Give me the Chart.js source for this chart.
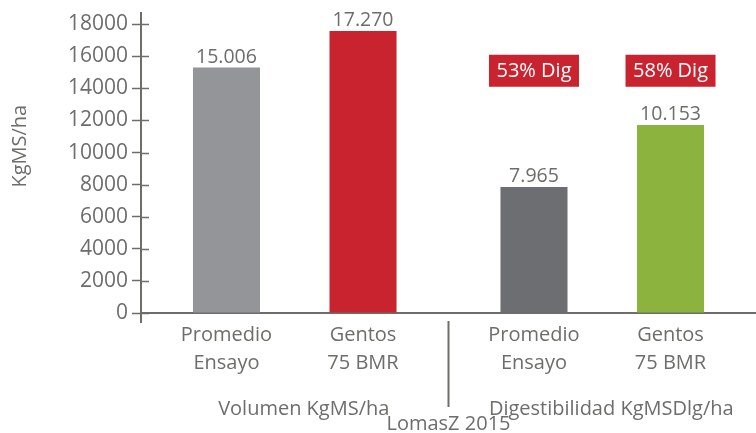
<!DOCTYPE html>
<html>
<head>
<meta charset="utf-8">
<script src="https://cdn.jsdelivr.net/npm/chart.js@4.4.1/dist/chart.umd.min.js"></script>
<style>
  html, body { margin: 0; padding: 0; background: #fff; }
  canvas { display: block; }
</style>
</head>
<body>
<canvas id="chart" width="756" height="433"></canvas>
<script>
// groups on the x axis
const groups = ["Volumen KgMS/ha", "Digestibilidad KgMSDlg/ha"];
// the two bars inside each group
const seriesNames = [["Promedio", "Ensayo"], ["Gentos", "75 BMR"]];
// bar heights as drawn (KgMS/ha)
const promedio = [15300, 7850];
const gentos = [17580, 11720];
// printed value labels
const promedioLabels = ["15.006", "7.965"];
const gentosLabels = ["17.270", "10.153"];
const promedioColors = ["#939598", "#6d6e71"];
const gentosColors = ["#c8232f", "#8db33f"];
// digestibility badges (only second group)
const badges = [["", "53% Dig"], ["", "58% Dig"]];
const badgeAt = 15100;
const yTicks = [0, 2000, 4000, 6000, 8000, 10000, 12000, 14000, 16000, 18000];
const yTitle = "KgMS/ha";
const footer = "LomasZ 2015";

const grey = "#6d6e6a";
const font = "'Open Sans', sans-serif";

const decor = {
  id: "decor",
  afterDraw(chart) {
    const ctx = chart.ctx;
    const { left, bottom } = chart.chartArea;
    const x = chart.scales.x, y = chart.scales.y;
    ctx.save();
    ctx.strokeStyle = grey;

    // y axis runs a bit below the x axis
    ctx.lineWidth = 2;
    ctx.beginPath();
    ctx.moveTo(left, bottom);
    ctx.lineTo(left, bottom + 10);
    ctx.stroke();

    // tick marks cross the axis
    ctx.lineWidth = 1.5;
    yTicks.forEach(v => {
      const py = Math.round(y.getPixelForValue(v)) + 0.5;
      ctx.beginPath();
      ctx.moveTo(left, py);
      ctx.lineTo(left + 8, py);
      ctx.stroke();
    });

    // separator between groups
    const xm = (x.left + x.right) / 2;
    ctx.lineWidth = 2;
    ctx.beginPath();
    ctx.moveTo(xm, bottom + 8);
    ctx.lineTo(xm, bottom + 94);
    ctx.stroke();

    ctx.fillStyle = grey;
    ctx.textAlign = "center";
    ctx.textBaseline = "alphabetic";

    const valLabels = [promedioLabels, gentosLabels];
    chart.data.datasets.forEach((ds, i) => {
      const meta = chart.getDatasetMeta(i);
      meta.data.forEach((bar, j) => {
        ctx.fillStyle = grey;
        ctx.font = "19.5px " + font;
        ctx.fillText(valLabels[i][j], bar.x, bar.y - 5);

        ctx.font = "20px " + font;
        ctx.fillText(seriesNames[i][0], bar.x, bottom + 28);
        ctx.fillText(seriesNames[i][1], bar.x, bottom + 56);

        const b = badges[i][j];
        if (b) {
          const yc = y.getPixelForValue(badgeAt);
          ctx.fillStyle = "#c8232f";
          ctx.fillRect(bar.x - 45, yc - 16, 90, 32);
          ctx.fillStyle = "#ffffff";
          ctx.textBaseline = "middle";
          ctx.fillText(b, bar.x, yc + 1);
          ctx.textBaseline = "alphabetic";
        }
      });
    });

    // y title
    ctx.fillStyle = grey;
    ctx.font = "20px " + font;
    ctx.save();
    ctx.translate(20, y.getPixelForValue(10400));
    ctx.rotate(-Math.PI / 2);
    ctx.textBaseline = "middle";
    ctx.fillText(yTitle, 0, 0);
    ctx.restore();

    // footer
    ctx.fillText(footer, xm, 430);
    ctx.restore();
  }
};

new Chart(document.getElementById("chart"), {
  type: "bar",
  data: {
    labels: groups,
    datasets: [
      { label: seriesNames[0].join(" "), data: promedio, backgroundColor: promedioColors },
      { label: seriesNames[1].join(" "), data: gentos, backgroundColor: gentosColors }
    ]
  },
  options: {
    responsive: false,
    animation: false,
    devicePixelRatio: 1,
    layout: { padding: { top: 13, right: 0, bottom: 0, left: 0 } },
    datasets: { bar: { categoryPercentage: 0.888, barPercentage: 0.491 } },
    plugins: { legend: { display: false }, tooltip: { enabled: false } },
    scales: {
      x: {
        grid: { display: false, drawTicks: false },
        border: { display: true, color: grey, width: 2 },
        ticks: { color: grey, font: { family: font, size: 20 }, padding: 84, labelOffset: 9, maxRotation: 0 },
        afterFit: s => { s.height = 120; s.paddingLeft = 0; s.paddingRight = 0; }
      },
      y: {
        min: 0,
        max: 18700,
        afterBuildTicks: s => { s.ticks = yTicks.map(v => ({ value: v })); },
        grid: { drawOnChartArea: false, drawTicks: true, tickLength: 9, tickColor: grey, tickWidth: 1.5 },
        border: { display: true, color: grey, width: 2 },
        ticks: { color: grey, font: { family: font, size: 21 }, padding: 4, callback: v => String(v) },
        afterFit: s => { s.width = 141; s.paddingTop = 0; s.paddingBottom = 0; }
      }
    }
  },
  plugins: [decor]
});
</script>
</body>
</html>
